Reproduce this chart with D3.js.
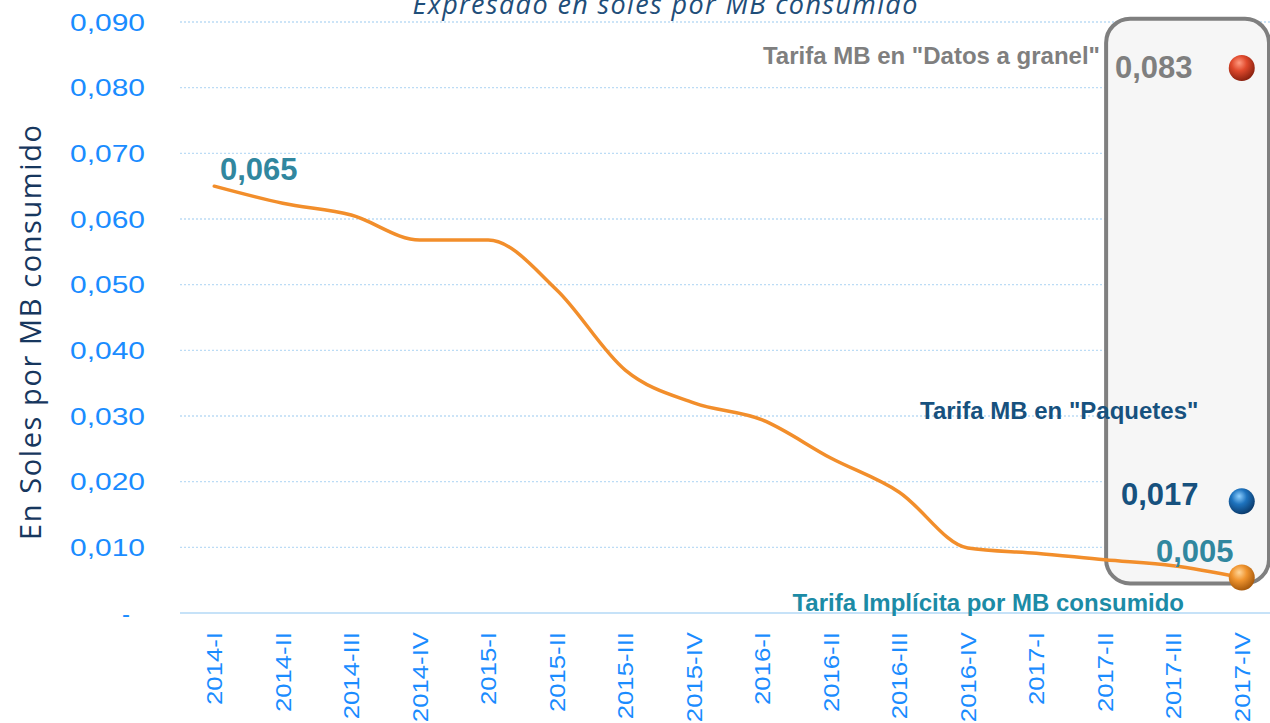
<!DOCTYPE html>
<html>
<head>
<meta charset="utf-8">
<script src="https://cdn.jsdelivr.net/npm/d3@7"></script>
<style>
  body { margin: 0; background: #fff; }
  svg { display: block; font-family: Arial, "Liberation Sans", sans-serif; }
</style>
</head>
<body>
<div class="chart"></div>
<script>
// quarters on the x axis
const quarters = ['2014-I','2014-II','2014-III','2014-IV','2015-I','2015-II','2015-III','2015-IV',
  '2016-I','2016-II','2016-III','2016-IV','2017-I','2017-II','2017-III','2017-IV'];

// implicit tariff per MB consumed (soles)
const implicitRate = [0.065, 0.0624, 0.0606, 0.0568, 0.0568, 0.0492, 0.0370, 0.0320,
  0.0294, 0.0236, 0.0184, 0.0099, 0.0091, 0.0081, 0.0072, 0.0054];

// tariffs shown only for the last quarter
const bulkRate = 0.083;
const packageRate = 0.017;

const yTicks = [0, 0.01, 0.02, 0.03, 0.04, 0.05, 0.06, 0.07, 0.08, 0.09];

const W = 1270, H = 723;
const margin = {t: 22, r: -6, b: 110, l: 180};

const svg = d3.select('.chart').append('svg')
  .attr('width', W)
  .attr('height', H);

const x = d3.scaleBand().domain(quarters).range([margin.l, W - margin.r]);
const y = d3.scaleLinear().domain([0, 0.09]).range([H - margin.b, margin.t]);
const cx = d => x(d) + x.bandwidth() / 2;

const fmt = v => v === 0 ? '-' : d3.format('.3f')(v).replace('.', ',');

// gradients for the spheres
const defs = svg.append('defs');
function sphereGrad(id, light, mid, dark) {
  const g = defs.append('radialGradient').attr('id', id)
    .attr('cx', '40%').attr('cy', '35%').attr('r', '65%').attr('fx', '40%').attr('fy', '30%');
  g.append('stop').attr('offset', '0%').attr('stop-color', light);
  g.append('stop').attr('offset', '45%').attr('stop-color', mid);
  g.append('stop').attr('offset', '100%').attr('stop-color', dark);
}
sphereGrad('gRed', '#ff9a80', '#e0492c', '#8c2210');
sphereGrad('gBlue', '#8fd0ff', '#1e73be', '#0b3c6e');
sphereGrad('gOrange', '#ffd699', '#f0942e', '#a85a0c');

// gridlines
svg.append('g').selectAll('line')
  .data(yTicks.filter(d => d > 0))
  .join('line')
  .attr('x1', margin.l).attr('x2', W)
  .attr('y1', d => y(d)).attr('y2', d => y(d))
  .attr('stroke', '#bcdcf5')
  .attr('stroke-width', 1.3)
  .attr('stroke-dasharray', '2,2');

// highlight box for the last quarter
const boxX = x('2017-II') + x.bandwidth() * 0.52;
svg.append('rect')
  .attr('x', boxX)
  .attr('y', y(0.0905))
  .attr('width', W - 1 - boxX)
  .attr('height', y(0.0045) - y(0.0905))
  .attr('rx', 24)
  .attr('fill', '#f6f6f6')
  .attr('stroke', '#7f7f7f')
  .attr('stroke-width', 4);

// y axis labels (stretched wide like the original)
svg.append('g').selectAll('text')
  .data(yTicks)
  .join('text')
  .attr('x', d => d === 0 ? 130 : 145)
  .attr('y', d => y(d))
  .attr('dy', '0.36em')
  .attr('text-anchor', 'end')
  .attr('fill', '#1a8cff')
  .attr('font-size', 24)
  .attr('textLength', d => d === 0 ? null : 75)
  .attr('lengthAdjust', 'spacingAndGlyphs')
  .text(fmt);

// baseline
svg.append('line')
  .attr('x1', margin.l).attr('x2', W)
  .attr('y1', y(0)).attr('y2', y(0))
  .attr('stroke', '#c6e2f8')
  .attr('stroke-width', 2);

// x labels
svg.append('g').selectAll('text')
  .data(quarters)
  .join('text')
  .attr('transform', d => `translate(${cx(d) + 8}, ${y(0) + 19}) rotate(-90) scale(1.17,1)`)
  .attr('text-anchor', 'end')
  .attr('fill', '#1a8cff')
  .attr('font-size', 22)
  .text(d => d);

// y axis title
svg.append('text')
  .attr('transform', `translate(41, ${(y(0) + y(0.09)) / 2 + 15}) rotate(-90)`)
  .attr('text-anchor', 'middle')
  .attr('fill', '#17375e')
  .attr('font-size', 29)
  .attr('font-family', '"Open Sans", "DejaVu Sans", sans-serif')
  .attr('textLength', 415)
  .text('En Soles por MB consumido');

// title (partly cut off at the top, as in the original)
svg.append('text')
  .attr('x', 665).attr('y', 14)
  .attr('text-anchor', 'middle')
  .attr('fill', '#1f4e79')
  .attr('font-size', 27)
  .attr('font-style', 'italic')
  .attr('font-family', '"Open Sans", "DejaVu Sans", sans-serif')
  .attr('textLength', 505)
  .text('Expresado en soles por MB consumido');

// implicit rate line
const line = d3.line()
  .x((d, i) => cx(quarters[i]))
  .y(d => y(d))
  .curve(d3.curveMonotoneX);

svg.append('path')
  .datum(implicitRate)
  .attr('d', line)
  .attr('fill', 'none')
  .attr('stroke', '#f28e2b')
  .attr('stroke-width', 3.5)
  .attr('stroke-linecap', 'round');

const last = quarters[quarters.length - 1];

// spheres
const spheres = [
  {v: bulkRate, fill: 'url(#gRed)'},
  {v: packageRate, fill: 'url(#gBlue)'},
  {v: implicitRate[implicitRate.length - 1], fill: 'url(#gOrange)'}
];
svg.append('g').selectAll('circle')
  .data(spheres)
  .join('circle')
  .attr('cx', cx(last))
  .attr('cy', d => y(d.v))
  .attr('r', 13)
  .attr('fill', d => d.fill);

// annotations
const bold = (sel) => sel.attr('font-weight', 'bold');

svg.append('text').call(bold)
  .attr('x', 220).attr('y', y(implicitRate[0]) - 6)
  .attr('fill', '#31879f').attr('font-size', 31)
  .text(fmt(implicitRate[0]));

svg.append('text').call(bold)
  .attr('x', 1100).attr('y', 64)
  .attr('text-anchor', 'end')
  .attr('fill', '#7f7f7f').attr('font-size', 24)
  .text('Tarifa MB en "Datos a granel"');

svg.append('text').call(bold)
  .attr('x', 1115).attr('y', y(bulkRate) + 10)
  .attr('fill', '#7f7f7f').attr('font-size', 31)
  .text(fmt(bulkRate));

svg.append('text').call(bold)
  .attr('x', 920).attr('y', 419)
  .attr('fill', '#17517e').attr('font-size', 24)
  .text('Tarifa MB en "Paquetes"');

svg.append('text').call(bold)
  .attr('x', 1121).attr('y', y(packageRate) + 4)
  .attr('fill', '#17517e').attr('font-size', 31)
  .text(fmt(packageRate));

svg.append('text').call(bold)
  .attr('x', 1156).attr('y', 562)
  .attr('fill', '#31879f').attr('font-size', 31)
  .text('0,005');

svg.append('text').call(bold)
  .attr('x', 1184).attr('y', 611)
  .attr('text-anchor', 'end')
  .attr('fill', '#1c8ba6').attr('font-size', 24)
  .text('Tarifa Implícita por MB consumido');
</script>
</body>
</html>
